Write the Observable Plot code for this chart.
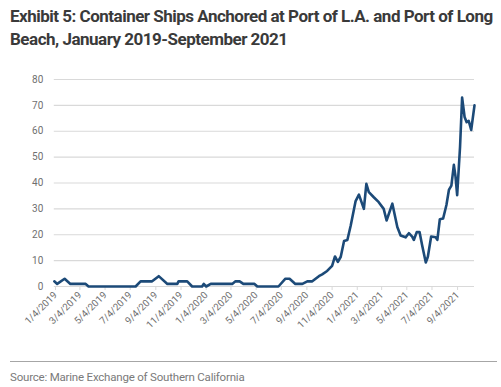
<!DOCTYPE html>
<html>
<head>
<meta charset="utf-8">
<script src="https://cdn.jsdelivr.net/npm/d3@7"></script>
<script src="https://cdn.jsdelivr.net/npm/@observablehq/plot@0.6"></script>
<style>
  html, body { margin: 0; padding: 0; background: #fff; }
  #wrap { position: relative; width: 501px; height: 387px; overflow: hidden; }
  #title { position: absolute; left: 10px; top: 5px; width: 495px; white-space: nowrap;
    font-family: "Roboto", sans-serif; font-weight: bold; letter-spacing: -0.5px;
    font-size: 17px; line-height: 23px; color: #3a3a3a; }
  #chart { position: absolute; left: 0; top: 55px; }
  #rule { position: absolute; left: 10px; top: 361px; width: 487px; height: 0; border-top: 1.5px solid #a6a6a6; }
  #source { position: absolute; left: 10px; top: 370px; letter-spacing: -0.2px;
    font-family: "Roboto", sans-serif; font-size: 11.5px; color: #7a7a7a; }
</style>
</head>
<body>
<div id="wrap">
  <div id="title">Exhibit 5: Container Ships Anchored at Port of L.A. and Port of Long<br>Beach, January 2019-September 2021</div>
  <div id="chart"></div>
  <div id="rule"></div>
  <div id="source">Source: Marine Exchange of Southern California</div>
</div>
<script>
const dates = [
  "2019-01-01","2019-01-08","2019-01-26","2019-02-09","2019-03-18","2019-03-25",
  "2019-07-17","2019-07-29","2019-08-26","2019-09-11","2019-10-02","2019-10-26",
  "2019-10-29","2019-11-19","2019-12-01","2019-12-25","2019-12-29","2020-01-04",
  "2020-01-15","2020-03-07","2020-03-15","2020-03-25","2020-04-03","2020-04-30",
  "2020-05-07","2020-06-27","2020-07-14","2020-07-24","2020-08-07","2020-08-24",
  "2020-09-05","2020-09-17","2020-09-25","2020-10-03","2020-10-11","2020-10-23",
  "2020-11-04","2020-11-11","2020-11-18","2020-11-25","2020-12-03","2020-12-11",
  "2020-12-19","2020-12-31","2021-01-08","2021-01-20","2021-01-26","2021-02-01",
  "2021-02-13","2021-02-25","2021-03-09","2021-03-16","2021-03-30","2021-04-11",
  "2021-04-19","2021-05-01","2021-05-09","2021-05-17","2021-05-21","2021-05-28",
  "2021-06-04","2021-06-10","2021-06-19","2021-06-24","2021-07-02","2021-07-13",
  "2021-07-17","2021-07-23","2021-07-31","2021-08-08","2021-08-14","2021-08-20",
  "2021-08-26","2021-08-30","2021-09-03","2021-09-10","2021-09-15","2021-09-21",
  "2021-09-26","2021-10-01","2021-10-07","2021-10-15"
];
const ships = [
  2, 1, 3, 1, 1, 0,
  0, 2, 2, 4, 1, 1,
  2, 2, 0, 0, 1, 0,
  1, 1, 2, 2, 1, 1,
  0, 0, 3, 3, 1, 1,
  2, 2, 3, 4, 4.7, 6,
  8, 11.6, 9.5, 11.5, 17.6, 18,
  23.5, 33, 35.5, 30, 39.7, 36.5,
  34.5, 32.6, 30, 25.5, 32, 23,
  19.7, 19, 20.6, 19.3, 18, 21,
  21, 16, 9.3, 11.5, 19.3, 19,
  18, 26, 26.3, 31.5, 37.3, 39,
  47, 42.5, 35.3, 54, 73, 65.5,
  63.5, 64, 60.5, 70
];
const tickDates = [
  "2019-01-04","2019-03-04","2019-05-04","2019-07-04","2019-09-04","2019-11-04",
  "2020-01-04","2020-03-04","2020-05-04","2020-07-04","2020-09-04","2020-11-04",
  "2021-01-04","2021-03-04","2021-05-04","2021-07-04","2021-09-04"
];
const yTicks = [0, 10, 20, 30, 40, 50, 60, 70, 80];

const parse = d3.utcParse("%Y-%m-%d");
const data = dates.map((d, i) => ({date: parse(d), value: ships[i]}));
const xTicks = tickDates.map(parse);
const fmt = d => `${d.getUTCMonth() + 1}/${d.getUTCDate()}/${d.getUTCFullYear()}`;

const chart = Plot.plot({
  width: 501,
  height: 305,
  marginLeft: 53.8,
  marginRight: 27,
  marginTop: 24,
  marginBottom: 74,
  style: {fontFamily: "Roboto, sans-serif", fontSize: "9.5px", color: "#6f6f6f", background: "transparent"},
  x: {type: "utc", domain: [parse("2019-01-01"), parse("2021-10-15")], label: null},
  y: {domain: [0, 80], label: null},
  marks: [
    Plot.gridY(yTicks, {stroke: "#d9d9d9", strokeOpacity: 1, strokeWidth: 1.2}),
    Plot.axisY(yTicks, {tickSize: 0, tickPadding: 11, fontSize: 10, fill: "#6f6f6f"}),
    Plot.axisX(xTicks, {tickSize: 4, stroke: "#d9d9d9", tickFormat: fmt, tickRotate: -45, tickPadding: 3, fontSize: 9.8, fill: "#6f6f6f", textAnchor: "end"}),
    Plot.line(data, {x: "date", y: "value", stroke: "#1c4a78", strokeWidth: 2.6, strokeLinejoin: "round", curve: "linear"})
  ]
});
document.getElementById("chart").appendChild(chart);
</script>
</body>
</html>
